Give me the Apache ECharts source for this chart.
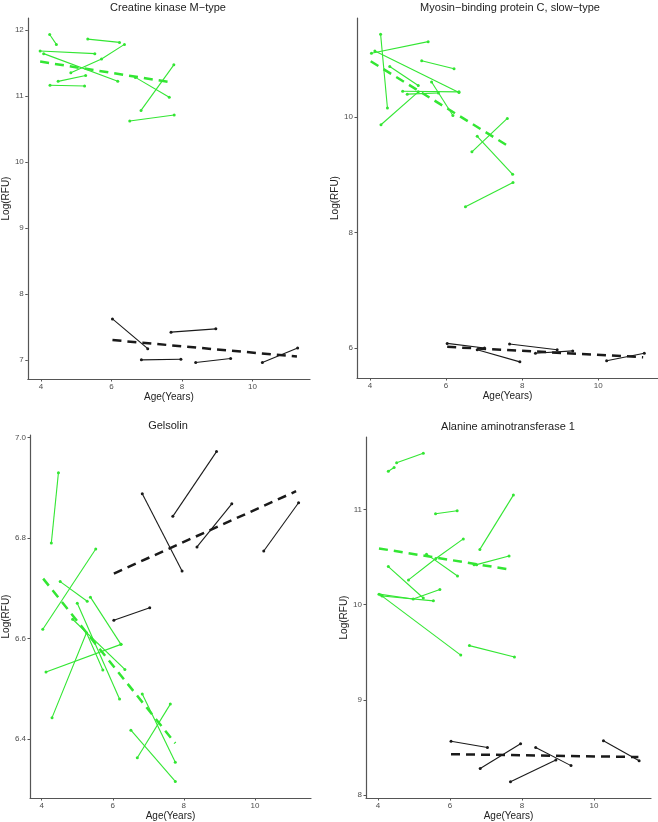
<!DOCTYPE html>
<html>
<head>
<meta charset="utf-8">
<script src="https://cdn.jsdelivr.net/npm/echarts@6/dist/echarts.min.js"></script>
<style>
  html, body { margin: 0; padding: 0; background: #fff; }
  #chart { width: 658px; height: 822px; }
</style>
</head>
<body>
<div id="chart"></div>
<script>
// panel titles
var titles = ['Creatine kinase M\u2212type', 'Myosin\u2212binding protein C, slow\u2212type', 'Gelsolin', 'Alanine aminotransferase 1'];

// one entry per subject: [age, log RFU] visits
var ckGreen = [
  [[4.25, 11.93], [4.44, 11.78]],
  [[5.33, 11.86], [6.23, 11.81]],
  [[3.98, 11.68], [5.53, 11.64]],
  [[4.08, 11.64], [6.18, 11.22]],
  [[4.85, 11.35], [5.72, 11.56], [6.37, 11.78]],
  [[4.49, 11.22], [5.27, 11.31]],
  [[4.26, 11.16], [5.24, 11.15]],
  [[6.68, 11.28], [7.64, 10.98]],
  [[6.84, 10.78], [7.77, 11.47]],
  [[6.52, 10.62], [7.78, 10.71]]
];
var ckBlack = [
  [[6.03, 7.62], [7.03, 7.17]],
  [[6.85, 7.0], [7.97, 7.01]],
  [[7.69, 7.42], [8.96, 7.47]],
  [[8.39, 6.96], [9.38, 7.02]],
  [[10.28, 6.96], [11.28, 7.18]]
];
var ckFitGreen = [[3.98, 11.52], [7.64, 11.21]];
var ckFitBlack = [[6.03, 7.30], [11.26, 7.05]];

var mbGreen = [
  [[4.28, 11.44], [4.46, 10.16]],
  [[4.04, 11.11], [5.53, 11.31]],
  [[4.13, 11.15], [6.34, 10.43]],
  [[5.36, 10.98], [6.21, 10.84]],
  [[4.52, 10.88], [5.27, 10.55]],
  [[4.86, 10.45], [6.34, 10.44]],
  [[4.98, 10.40], [5.80, 10.42]],
  [[4.29, 9.87], [5.27, 10.44]],
  [[5.62, 10.61], [6.18, 10.03]],
  [[6.68, 9.40], [7.61, 9.98]],
  [[6.82, 9.67], [7.75, 9.01]],
  [[6.51, 8.45], [7.76, 8.87]]
];
var mbBlack = [
  [[6.03, 6.08], [7.01, 6.00]],
  [[6.82, 5.97], [7.94, 5.76]],
  [[7.67, 6.07], [8.92, 5.97]],
  [[8.35, 5.91], [9.33, 5.95]],
  [[10.22, 5.78], [11.21, 5.91]]
];
var mbFitGreen = [[4.02, 10.97], [7.71, 9.47]];
var mbFitBlack = [[6.03, 6.02], [11.18, 5.84]];

var gsGreen = [
  [[4.27, 6.79], [4.47, 6.93]],
  [[4.03, 6.618], [5.52, 6.778]],
  [[4.52, 6.713], [5.28, 6.674]],
  [[4.12, 6.533], [6.23, 6.588]],
  [[4.29, 6.442], [5.26, 6.611], [5.72, 6.537]],
  [[5.0, 6.670], [6.19, 6.479]],
  [[5.37, 6.682], [6.23, 6.588]],
  [[4.87, 6.638], [6.34, 6.538]],
  [[6.69, 6.362], [7.62, 6.469]],
  [[6.83, 6.489], [7.76, 6.353]],
  [[6.51, 6.417], [7.76, 6.315]]
];
var gsBlack = [
  [[6.83, 6.888], [7.95, 6.734]],
  [[7.69, 6.843], [8.92, 6.972]],
  [[8.37, 6.782], [9.35, 6.868]],
  [[10.25, 6.774], [11.23, 6.870]],
  [[6.03, 6.636], [7.04, 6.661]]
];
var gsFitGreen = [[4.04, 6.719], [7.76, 6.391]];
var gsFitBlack = [[6.03, 6.729], [11.16, 6.893]];

var alGreen = [
  [[4.29, 11.40], [4.45, 11.44]],
  [[4.52, 11.49], [5.26, 11.59]],
  [[5.60, 10.955], [6.20, 10.986]],
  [[6.83, 10.58], [7.76, 11.15]],
  [[4.85, 10.26], [5.61, 10.485], [6.37, 10.69]],
  [[5.35, 10.53], [6.21, 10.30]],
  [[6.67, 10.42], [6.74, 10.42], [7.64, 10.51]],
  [[4.29, 10.40], [5.26, 10.07]],
  [[4.03, 10.11], [4.98, 10.06], [5.72, 10.16]],
  [[4.12, 10.09], [5.54, 10.04]],
  [[4.08, 10.10], [6.30, 9.47]],
  [[6.54, 9.57], [7.79, 9.45]]
];
var alBlack = [
  [[6.03, 8.565], [7.04, 8.50]],
  [[6.84, 8.28], [7.96, 8.54]],
  [[7.68, 8.14], [8.94, 8.37]],
  [[8.38, 8.50], [9.36, 8.31]],
  [[10.26, 8.57], [11.25, 8.36]]
];
var alFitGreen = [[4.03, 10.59], [7.64, 10.37]];
var alFitBlack = [[6.03, 8.43], [11.23, 8.40]];

// axis ticks and ranges
var xTicks = [4, 6, 8, 10];
var ckTicks = [7, 8, 9, 10, 11, 12];
var mbTicks = [6, 8, 10];
var gsTicks = [6.4, 6.6, 6.8, 7.0];
var alTicks = [8, 9, 10, 11];
var xRanges = [[3.63, 11.63], [3.66, 11.57], [3.67, 11.58], [3.67, 11.58]];
var yRanges = [[6.71, 12.18], [5.48, 11.72], [6.282, 7.005], [7.97, 11.76]];

var green = '#33e633';
var black = '#1a1a1a';
var font = 'Liberation Sans, Arial, sans-serif';

var myChart = echarts.init(document.getElementById('chart'));

var grids = [
  { left: 27, top: 18, width: 283, height: 361 },
  { left: 357, top: 18, width: 306, height: 360 },
  { left: 26, top: 435, width: 285, height: 364 },
  { left: 366, top: 437, width: 285, height: 362 }
];
var yTickSets = [ckTicks, mbTicks, gsTicks, alTicks];
var yGaps = [13, 13, 14, 14];

function axisCommon() {
  return {
    axisLine: { show: true, onZero: false, lineStyle: { color: '#555', width: 1.2 } },
    axisTick: { show: true, inside: false, length: 2.5, lineStyle: { color: '#555' } },
    splitLine: { show: false },
    nameTextStyle: { color: '#222', fontSize: 10, fontFamily: font }
  };
}

var xAxes = [], yAxes = [];
for (var k = 0; k < 4; k++) {
  var xa = axisCommon();
  xa.type = 'value';
  xa.gridIndex = k;
  xa.min = xRanges[k][0];
  xa.max = xRanges[k][1];
  xa.name = 'Age(Years)';
  xa.nameLocation = 'middle';
  xa.nameGap = 13;
  xa.axisTick.customValues = xTicks;
  xa.axisLabel = { customValues: xTicks, color: '#4d4d4d', fontSize: 8, fontFamily: font, margin: 4 };
  xAxes.push(xa);

  var ya = axisCommon();
  ya.type = 'value';
  ya.gridIndex = k;
  ya.min = yRanges[k][0];
  ya.max = yRanges[k][1];
  ya.name = 'Log(RFU)';
  ya.nameLocation = 'middle';
  ya.nameGap = yGaps[k];
  ya.axisTick.customValues = yTickSets[k];
  ya.axisLabel = {
    customValues: yTickSets[k], color: '#4d4d4d', fontSize: 8, fontFamily: font, margin: 4,
    formatter: k === 2 ? function (v) { return v.toFixed(1); } : function (v) { return String(v); }
  };
  yAxes.push(ya);
}

function subjectLines(list, color, k) {
  return list.map(function (pts) {
    return {
      type: 'line', xAxisIndex: k, yAxisIndex: k, data: pts,
      symbol: 'circle', symbolSize: 3, showSymbol: true,
      itemStyle: { color: color }, lineStyle: { color: color, width: 1.1 },
      silent: true, animation: false
    };
  });
}
function fitLine(pts, color, k) {
  return {
    type: 'line', xAxisIndex: k, yAxisIndex: k, data: pts, symbol: 'none',
    lineStyle: { color: color, width: 2.5, type: [9, 6] },
    silent: true, animation: false, z: 3
  };
}

var greens = [ckGreen, mbGreen, gsGreen, alGreen];
var blacks = [ckBlack, mbBlack, gsBlack, alBlack];
var fitsG = [ckFitGreen, mbFitGreen, gsFitGreen, alFitGreen];
var fitsB = [ckFitBlack, mbFitBlack, gsFitBlack, alFitBlack];

var series = [];
for (var i = 0; i < 4; i++) {
  series = series.concat(subjectLines(greens[i], green, i));
  series = series.concat(subjectLines(blacks[i], black, i));
  series.push(fitLine(fitsG[i], green, i));
  series.push(fitLine(fitsB[i], black, i));
}

var titlePos = [[168, 8], [510, 8], [168, 426], [508, 427]];
var graphics = titles.map(function (t, i) {
  return {
    type: 'text', x: titlePos[i][0], y: titlePos[i][1],
    style: { text: t, textAlign: 'center', textVerticalAlign: 'middle', fontSize: 11, fontFamily: font, fill: '#222' }
  };
});

option = {
  backgroundColor: '#fff',
  animation: false,
  grid: grids,
  xAxis: xAxes,
  yAxis: yAxes,
  graphic: graphics,
  series: series
};

myChart.setOption(option);
</script>
</body>
</html>
